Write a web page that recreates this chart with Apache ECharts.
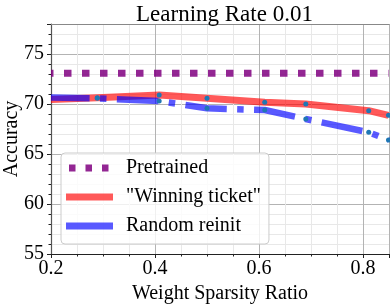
<!DOCTYPE html>
<html>
<head>
<meta charset="utf-8">
<script src="https://cdn.jsdelivr.net/npm/echarts@6/dist/echarts.min.js"></script>
<style>
html,body{margin:0;padding:0;background:#fff;}
#c{width:390px;height:304px;}
</style>
</head>
<body>
<div id="c"></div>
<script>
// ---- data ----
var sparsity = [0.2, 0.289, 0.408, 0.5, 0.611, 0.69, 0.811, 0.849];
var pretrained = [73.07, 73.07, 73.07, 73.07, 73.07, 73.07, 73.07, 73.07];
var winningTicket = [70.45, 70.63, 70.9, 70.57, 70.17, 70.0, 69.33, 68.87];
var randomReinit = [70.65, 70.57, 70.3, 69.57, 69.4, 68.5, 67.17, 66.4];
var seriesNames = ['Pretrained', '"Winning ticket"', 'Random reinit'];
var xTicks = [0.2, 0.4, 0.6, 0.8];
var yTicks = [55, 60, 65, 70, 75];

var FONT = 'Liberation Serif';
function pairs(ys) {
  return sparsity.map(function (x, i) {
    var d = {value: [x, ys[i]]};
    if (i === 0) d.symbolSize = 0;
    return d;
  });
}

var chart = echarts.init(document.getElementById('c'), null, {renderer: 'canvas'});
var labelStyle = {fontFamily: FONT, fontSize: 20, color: '#000'};
var noBorder = {borderWidth: 0, borderColor: 'transparent', borderType: 'solid'};
function legendItemStyle(color, opacity) {
  return {color: color, opacity: opacity, borderWidth: 0, borderColor: 'transparent', borderType: 'solid'};
}
var option = {
  animation: false,
  textStyle: {fontFamily: FONT},
  title: {
    text: 'Learning Rate 0.01',
    left: 131, top: -2,
    textStyle: {fontFamily: FONT, fontSize: 23, fontWeight: 'normal', color: '#000'}
  },
  grid: {left: 51, right: 1, top: 24, bottom: 50, containLabel: false, outerBoundsMode: 'none'},
  legend: {
    orient: 'vertical',
    left: 61, top: 153,
    padding: [4, 8, 7, 5],
    itemWidth: 47, itemHeight: 7,
    itemGap: 7,
    itemStyle: noBorder,
    backgroundColor: 'rgba(255,255,255,0.8)',
    borderColor: '#cccccc', borderWidth: 1, borderRadius: 4,
    textStyle: {fontFamily: FONT, fontSize: 20, color: '#000', lineHeight: 22, padding: [0, 0, 0, 8]},
    data: [
      {name: seriesNames[0], icon: 'path://M3,0h6.5v7h-6.5z M19.5,0h6.5v7h-6.5z M36,0h6.5v7h-6.5z M0,0h0.01v0.01h-0.01z M47,7h-0.01v-0.01h0.01z',
       itemStyle: legendItemStyle('#800080', 0.85),
       lineStyle: {color: '#800080', opacity: 0.85, width: 7, type: [6.5, 10], dashOffset: 13.5, cap: 'butt'}},
      {name: seriesNames[1], icon: 'rect', itemStyle: legendItemStyle('#ff0000', 0.65),
       lineStyle: {color: '#ff0000', opacity: 0.65, width: 7, type: 'solid', dashOffset: 0, cap: 'butt'}},
      {name: seriesNames[2], icon: 'rect', itemStyle: legendItemStyle('#0000ff', 0.65),
       lineStyle: {color: '#0000ff', opacity: 0.65, width: 7, type: 'solid', dashOffset: 0, cap: 'butt'}}
    ]
  },
  xAxis: [{
    type: 'value', min: 0.2, max: 0.85, interval: 0.2,
    name: 'Weight Sparsity Ratio', nameLocation: 'middle', nameGap: 25,
    nameTextStyle: labelStyle,
    axisLine: {show: true, onZero: false, lineStyle: {color: '#222', width: 1.2}},
    axisTick: {show: true, inside: false, length: 4, lineStyle: {color: '#222'}},
    minorTick: {show: true, splitNumber: 4, length: 2.5, lineStyle: {color: '#222'}},
    axisLabel: {fontFamily: FONT, fontSize: 20, color: '#000', margin: 5,
      align: 'center', verticalAlign: 'top',
      customValues: xTicks, hideOverlap: false,
      formatter: function (v) { return v.toFixed(1); }},
    splitLine: {show: true, lineStyle: {color: '#b3b3b3', width: 1}},
    minorSplitLine: {show: true, lineStyle: {color: '#e8e8e8', width: 1}}
  }, {
    type: 'value', min: 0.2, max: 0.85, position: 'top',
    axisLine: {show: true, onZero: false, lineStyle: {color: '#888', width: 1.2}},
    axisTick: {show: false}, axisLabel: {show: false}, splitLine: {show: false}
  }],
  yAxis: {
    type: 'value', min: 55, max: 78, interval: 5,
    name: 'Accuracy', nameLocation: 'middle', nameGap: 29, nameMoveOverlap: false,
    nameTextStyle: labelStyle,
    axisLine: {show: true, onZero: false, lineStyle: {color: '#555', width: 1.2}},
    axisTick: {show: true, inside: false, length: 4, lineStyle: {color: '#222'}},
    minorTick: {show: true, splitNumber: 5, length: 2.5, lineStyle: {color: '#222'}},
    axisLabel: {fontFamily: FONT, fontSize: 20, color: '#000', margin: 7,
      align: 'right', verticalAlign: 'middle',
      customValues: yTicks, hideOverlap: false,
      formatter: function (v) { return String(v); }},
    splitLine: {show: true, lineStyle: {color: '#b3b3b3', width: 1}},
    minorSplitLine: {show: true, lineStyle: {color: '#e8e8e8', width: 1}}
  },
  series: [{
    name: seriesNames[0], type: 'line', z: 2,
    data: pairs(pretrained), showSymbol: false, symbol: 'none',
    lineStyle: {color: '#800080', opacity: 0.85, width: 7, type: [7.5, 10.5], dashOffset: 5, cap: 'butt'},
    itemStyle: {color: '#800080'}
  }, {
    name: seriesNames[1], type: 'line', z: 3,
    data: pairs(winningTicket),
    symbol: 'circle', symbolSize: 5, showSymbol: true,
    lineStyle: {color: '#ff0000', opacity: 0.65, width: 7, cap: 'butt', join: 'round'},
    itemStyle: {color: '#1f77b4'}
  }, {
    name: seriesNames[2], type: 'line', z: 4,
    data: pairs(randomReinit),
    symbol: 'circle', symbolSize: 5, showSymbol: true,
    lineStyle: {color: '#0000ff', opacity: 0.65, width: 6.5, type: [41.6, 10.4, 6.5, 10.4], dashOffset: 3, cap: 'butt'},
    itemStyle: {color: '#1f77b4'}
  }]
};
chart.setOption(option);
</script>
</body>
</html>
